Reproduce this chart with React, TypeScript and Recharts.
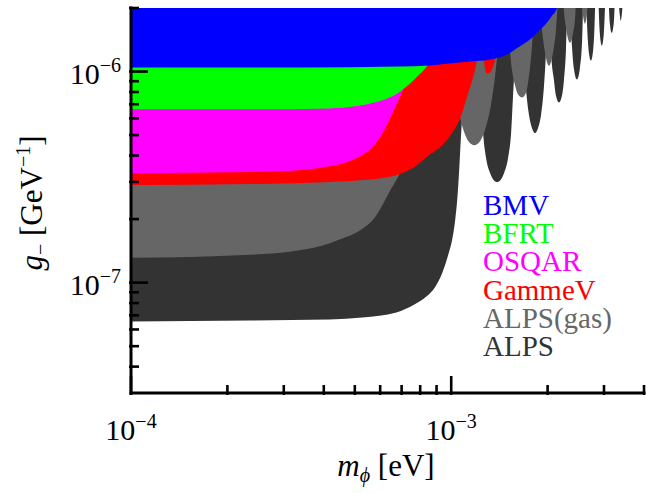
import React from "react";
import { ComposedChart, Area, XAxis, YAxis, Legend } from "recharts";

// axis limits (log-log)
const M_MIN = 1e-4;
const M_MAX = 4e-3;
const G_MIN = 3e-8;
const G_MAX = 2e-6;
// where a bound shoots off the top of the frame
const POLE = 3e-6;

const massTicks = [
  1e-4, 2e-4, 3e-4, 4e-4, 5e-4, 6e-4, 7e-4, 8e-4, 9e-4, 1e-3, 2e-3, 3e-3, 4e-3,
];
const couplingTicks = [
  4e-8, 5e-8, 6e-8, 7e-8, 8e-8, 9e-8, 1e-7, 2e-7, 3e-7, 4e-7, 5e-7, 6e-7, 7e-7,
  8e-7, 9e-7, 1e-6, 2e-6,
];

// ALPS
const alpsMass = [
  1e-4, 2.35e-4, 4.17e-4, 5.28e-4, 6.74e-4, 7.67e-4, 8.36e-4, 8.92e-4, 9.38e-4,
  9.79e-4, 1.007e-3, 1.029e-3, 1.044e-3, 1.059e-3, 1.074e-3, 1.09e-3, 1.106e-3,
  1.121e-3, 1.154e-3,
  1.196e-3, 1.222e-3, 1.24e-3, 1.258e-3, 1.285e-3, 1.323e-3, 1.391e-3, 1.462e-3,
  1.505e-3, 1.538e-3, 1.56e-3, 1.583e-3, 1.606e-3, 1.629e-3,
  1.665e-3, 1.713e-3, 1.75e-3, 1.788e-3, 1.827e-3, 1.866e-3, 1.907e-3, 1.949e-3,
  1.977e-3, 2.013e-3,
  2.049e-3, 2.094e-3, 2.124e-3, 2.17e-3, 2.218e-3, 2.249e-3, 2.282e-3, 2.323e-3,
  2.382e-3, 2.416e-3, 2.469e-3, 2.522e-3, 2.559e-3, 2.606e-3,
  2.672e-3, 2.691e-3, 2.73e-3, 2.769e-3, 2.789e-3, 2.849e-3,
  2.912e-3, 2.954e-3, 2.996e-3, 3.062e-3,
  3.128e-3, 3.173e-3, 3.219e-3, 3.277e-3,
  3.361e-3, 3.385e-3, 3.41e-3, 3.484e-3, 4e-3,
];
const alpsCoupling = [
  6.55e-8, 6.62e-8, 6.69e-8, 6.84e-8, 7.22e-8, 7.87e-8, 8.59e-8, 9.57e-8, 1.115e-7,
  1.355e-7, 1.6e-7, 1.98e-7, 2.46e-7, 3.41e-7, 5.1e-7, 7.3e-7, 1.127e-6,
  1.648e-6, POLE,
  1.74e-6, 1.164e-6, 7.3e-7, 5.1e-7, 3.89e-7, 3.3e-7, 2.995e-7, 3.3e-7,
  3.89e-7, 5.1e-7, 7.7e-7, 1.164e-6, 1.74e-6, POLE,
  1.4e-6, 8.14e-7, 6.2e-7, 5.38e-7, 5.1e-7, 5.38e-7, 6.2e-7, 8.59e-7,
  1.256e-6, POLE,
  1.256e-6, 9.07e-7, 7.7e-7, 7.14e-7, 7.7e-7, 9.07e-7, 1.256e-6, POLE,
  1.327e-6, 1.033e-6, 9.17e-7, 1.033e-6, 1.327e-6, POLE,
  1.4e-6, 1.229e-6, 1.127e-6, 1.229e-6, 1.4e-6, POLE,
  1.51e-6, 1.327e-6, 1.51e-6, POLE,
  1.7e-6, 1.527e-6, 1.7e-6, POLE,
  1.857e-6, 1.74e-6, 1.857e-6, POLE, POLE,
];

// ALPS with gas
const alpsGasMass = [
  1e-4, 2.35e-4, 3.13e-4, 3.94e-4, 4.48e-4, 5.28e-4, 5.76e-4, 6.1e-4, 6.41e-4,
  6.74e-4, 7.04e-4, 7.4e-4, 7.84e-4, 8.24e-4, 8.54e-4, 9.18e-4,
  1e-3, 1.037e-3, 1.067e-3, 1.098e-3, 1.138e-3, 1.179e-3, 1.231e-3, 1.285e-3,
  1.332e-3, 1.371e-3, 1.411e-3, 1.452e-3,
  1.516e-3, 1.549e-3, 1.583e-3, 1.617e-3, 1.665e-3, 1.713e-3, 1.75e-3, 1.788e-3,
  1.84e-3,
  1.921e-3, 1.963e-3, 2.02e-3, 2.079e-3, 2.124e-3, 2.186e-3,
  2.265e-3, 2.298e-3, 2.348e-3, 2.399e-3, 2.433e-3, 2.486e-3,
  2.577e-3, 2.615e-3, 2.652e-3, 2.71e-3, 4e-3,
];
const alpsGasCoupling = [
  1.31e-7, 1.355e-7, 1.4e-7, 1.494e-7, 1.6e-7, 1.8e-7, 2.025e-7, 2.33e-7, 2.69e-7,
  3.06e-7, 3.49e-7, 4.24e-7, 5.87e-7, 9.07e-7, 1.4e-6, POLE,
  1.4e-6, 7.7e-7, 6e-7, 5.16e-7, 4.62e-7, 4.48e-7, 4.68e-7, 5.5e-7,
  6.99e-7, 9.57e-7, 1.479e-6, POLE,
  1.4e-6, 1.011e-6, 8.59e-7, 7.79e-7, 7.54e-7, 7.96e-7, 9.57e-7, 1.327e-6,
  POLE,
  1.56e-6, 1.229e-6, 1.067e-6, 1.229e-6, 1.56e-6, POLE,
  1.74e-6, 1.51e-6, 1.37e-6, 1.51e-6, 1.74e-6, POLE,
  1.857e-6, 1.685e-6, 1.857e-6, POLE, POLE,
];

// GammeV
const gammevMass = [
  1e-4, 2.35e-4, 4.17e-4, 5.28e-4, 6.74e-4, 7.67e-4, 8.54e-4, 9.38e-4, 9.86e-4,
  1.029e-3, 1.067e-3, 1.098e-3, 1.129e-3, 1.163e-3, 1.196e-3, 1.222e-3, 1.245e-3,
  1.267e-3, 1.294e-3, 1.323e-3, 1.351e-3, 1.381e-3, 1.411e-3, 1.442e-3, 4e-3,
];
const gammevCoupling = [
  2.9e-7, 2.93e-7, 2.995e-7, 3.06e-7, 3.23e-7, 3.52e-7, 4.02e-7, 4.48e-7, 4.88e-7,
  5.38e-7, 6e-7, 6.84e-7, 7.87e-7, 9.07e-7, 1.079e-6, 1.327e-6, POLE,
  1.103e-6, 9.78e-7, 9.89e-7, 1.056e-6, 1.19e-6, 1.4e-6, POLE, POLE,
];

// OSQAR
const osqarMass = [
  1e-4, 2.35e-4, 3.36e-4, 4.17e-4, 4.81e-4, 5.28e-4, 5.67e-4, 5.97e-4, 6.27e-4,
  6.55e-4, 6.79e-4, 7.04e-4, 7.24e-4, 7.45e-4, 7.61e-4, 7.84e-4, 4e-3,
];
const osqarCoupling = [
  3.3e-7, 3.34e-7, 3.41e-7, 3.56e-7, 3.76e-7, 4.02e-7, 4.38e-7, 4.83e-7, 5.5e-7,
  6.34e-7, 7.14e-7, 8.05e-7, 8.87e-7, 1.011e-6, 1.256e-6, POLE, POLE,
];

// BFRT
const bfrtMass = [
  1e-4, 2.35e-4, 4.17e-4, 5.02e-4, 5.76e-4, 6.32e-4, 6.79e-4, 7.19e-4, 7.56e-4,
  7.89e-4, 8.24e-4, 8.54e-4, 8.79e-4, 9.11e-4, 4e-3,
];
const bfrtCoupling = [
  6.62e-7, 6.62e-7, 6.69e-7, 6.84e-7, 7.14e-7, 7.46e-7, 7.87e-7, 8.4e-7, 8.97e-7,
  9.57e-7, 1.022e-6, 1.103e-6, 1.229e-6, POLE, POLE,
];

// BMV
const bmvMass = [
  1e-4, 3.36e-4, 6.89e-4, 8.6e-4, 9.86e-4, 1.138e-3, 1.267e-3, 1.411e-3, 1.516e-3,
  1.594e-3, 1.688e-3, 1.788e-3, 1.88e-3, 1.977e-3, 2.064e-3, 2.139e-3, 2.201e-3,
  4e-3,
];
const bmvCoupling = [
  1.044e-6, 1.044e-6, 1.056e-6, 1.067e-6, 1.091e-6, 1.115e-6, 1.127e-6, 1.164e-6,
  1.216e-6, 1.284e-6, 1.355e-6, 1.446e-6, 1.56e-6, 1.685e-6, 1.837e-6, 2e-6, POLE,
  POLE,
];

const toPoints = (mass: number[], coupling: number[]) =>
  mass.map((m, i) => ({ m, g: coupling[i] }));

// drawn back to front: weaker limits cover the stronger ones above them
const series = [
  { name: "ALPS", color: "#333333", data: toPoints(alpsMass, alpsCoupling) },
  { name: "ALPS(gas)", color: "#666666", data: toPoints(alpsGasMass, alpsGasCoupling) },
  { name: "GammeV", color: "#ff0000", data: toPoints(gammevMass, gammevCoupling) },
  { name: "OSQAR", color: "#ff00ff", data: toPoints(osqarMass, osqarCoupling) },
  { name: "BFRT", color: "#00ff00", data: toPoints(bfrtMass, bfrtCoupling) },
  { name: "BMV", color: "#0000ff", data: toPoints(bmvMass, bmvCoupling) },
];

const FONT = "'Liberation Serif', 'Times New Roman', serif";
const MAJOR = 19;
const MINOR = 10;

const isDecade = (v: number) =>
  Math.abs(Math.log10(v) - Math.round(Math.log10(v))) < 1e-6;

function PowerLabel({ x, y, value, anchor }: { x: number; y: number; value: number; anchor: "middle" | "end" }) {
  const exp = Math.round(Math.log10(value));
  return (
    <text x={x} y={y} textAnchor={anchor} fontFamily={FONT} fontSize={30} fill="#000">
      10
      <tspan dy={-12} fontSize={20}>
        {"\u2212" + Math.abs(exp)}
      </tspan>
    </text>
  );
}

function makeTick(side: "bottom" | "top" | "left" | "right") {
  return (props: any) => {
    const { x, y, payload } = props;
    const major = isDecade(payload.value);
    const len = major ? MAJOR : MINOR;
    let line;
    if (side === "bottom") line = { x1: x, x2: x, y1: y, y2: y - len };
    else if (side === "top") line = { x1: x, x2: x, y1: y, y2: y + len };
    else if (side === "left") line = { x1: x, x2: x + len, y1: y, y2: y };
    else line = { x1: x, x2: x - len, y1: y, y2: y };
    return (
      <g>
        <line {...line} stroke="#000" strokeWidth={2.6} />
        {major && side === "bottom" && (
          <PowerLabel x={x} y={y + 45} value={payload.value} anchor="middle" />
        )}
        {major && side === "left" && (
          <PowerLabel x={x - 8} y={y + 12} value={payload.value} anchor="end" />
        )}
      </g>
    );
  };
}

const frame = { stroke: "#000", strokeWidth: 3, strokeLinecap: "square" as const };

function LimitLegend() {
  return (
    <div style={{ fontFamily: FONT, fontSize: 29, lineHeight: "28.2px" }}>
      {[...series].reverse().map((s) => (
        <div key={s.name} style={{ color: s.color, whiteSpace: "nowrap" }}>
          {s.name}
        </div>
      ))}
    </div>
  );
}

export default function App() {
  return (
    <div style={{ position: "absolute", left: 0, top: 0, width: 646, height: 493, background: "#fff" }}>
      <ComposedChart width={646} height={493} margin={{ top: 8, right: 2, bottom: 0, left: 0 }}>
        {series.map((s) => (
          <Area
            key={s.name}
            name={s.name}
            data={s.data}
            dataKey="g"
            type="monotone"
            baseValue={G_MAX}
            stroke="none"
            fill={s.color}
            fillOpacity={1}
            dot={false}
            activeDot={false}
            isAnimationActive={false}
          />
        ))}
        <XAxis
          dataKey="m"
          type="number"
          scale="log"
          domain={[M_MIN, M_MAX]}
          allowDataOverflow
          ticks={massTicks}
          interval={0}
          height={100}
          tickSize={0}
          tickLine={false}
          axisLine={frame}
          tick={makeTick("bottom")}
        />
        <XAxis
          xAxisId="top"
          orientation="top"
          dataKey="m"
          type="number"
          scale="log"
          domain={[M_MIN, M_MAX]}
          allowDataOverflow
          ticks={massTicks}
          interval={0}
          height={0}
          tickSize={0}
          tickLine={false}
          axisLine={frame}
          tick={makeTick("top")}
        />
        <YAxis
          type="number"
          scale="log"
          domain={[G_MIN, G_MAX]}
          allowDataOverflow
          ticks={couplingTicks}
          interval={0}
          width={131}
          tickSize={0}
          tickLine={false}
          axisLine={frame}
          tick={makeTick("left")}
        />
        <YAxis
          yAxisId="right"
          orientation="right"
          type="number"
          scale="log"
          domain={[G_MIN, G_MAX]}
          allowDataOverflow
          ticks={couplingTicks}
          interval={0}
          width={0}
          tickSize={0}
          tickLine={false}
          axisLine={frame}
          tick={makeTick("right")}
        />
        <Legend
          layout="vertical"
          align="center"
          verticalAlign="middle"
          content={() => <LimitLegend />}
          wrapperStyle={{ left: 483, top: 191, width: "auto" }}
        />
      </ComposedChart>
      <svg
        width={646}
        height={493}
        style={{ position: "absolute", left: 0, top: 0, pointerEvents: "none" }}
      >
        <text x={386} y={476} textAnchor="middle" fontFamily={FONT} fontSize={31} fill="#000">
          <tspan fontStyle="italic">m</tspan>
          <tspan fontStyle="italic" fontSize={20} dy={6}>
            {"\u03d5"}
          </tspan>
          <tspan dy={-6}>{" [eV]"}</tspan>
        </text>
        <text
          transform="translate(42, 203) rotate(-90)"
          textAnchor="middle"
          fontFamily={FONT}
          fontSize={31}
          fill="#000"
        >
          <tspan fontStyle="italic">g</tspan>
          <tspan fontSize={20} dy={5}>
            {"\u2212"}
          </tspan>
          <tspan dy={-5}>{" [GeV"}</tspan>
          <tspan fontSize={20} dy={-12}>
            {"\u22121"}
          </tspan>
          <tspan dy={12}>]</tspan>
        </text>
      </svg>
    </div>
  );
}
